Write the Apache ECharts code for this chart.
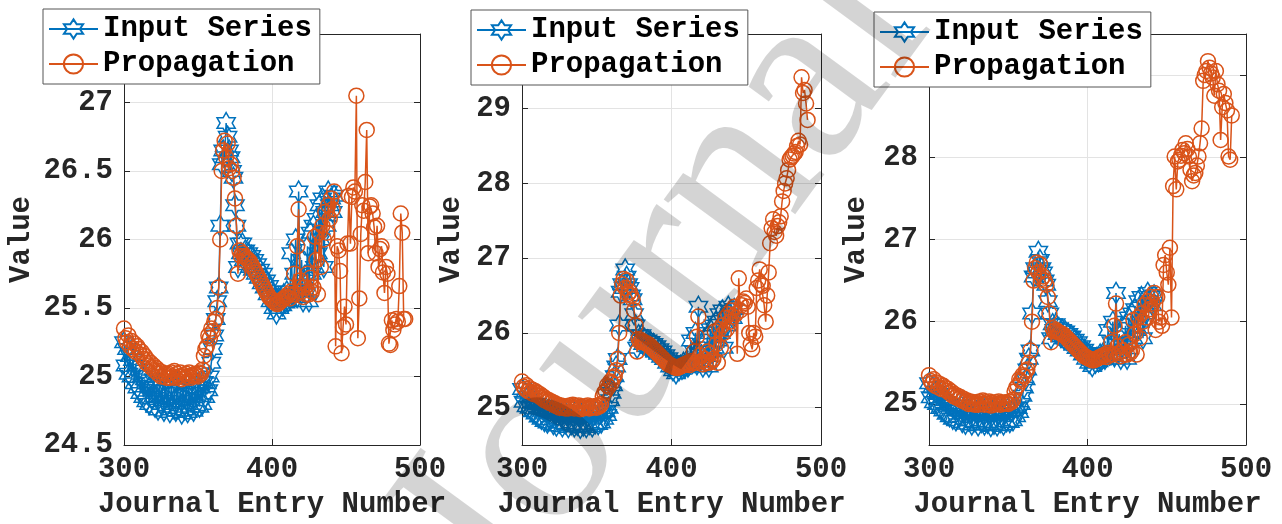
<!DOCTYPE html>
<html><head><meta charset="utf-8">
<script src="https://cdn.jsdelivr.net/npm/echarts@6/dist/echarts.min.js"></script>
<style>html,body{margin:0;padding:0;background:#fff}#c{width:1282px;height:524px}</style>
</head><body><div id="c"></div>
<script>
// ---- data ----
const firstEntry = 300;      // journal entry number of first value
const tailFirstEntry = 443;  // journal entry number of first tail value
const xTicks = [300, 400, 500];
const yTicks1 = [24.5, 25, 25.5, 26, 26.5, 27, 27.5];
const yTicks2 = [25, 26, 27, 28, 29, 30];
const yTicks3 = [25, 26, 27, 28, 29];
const seriesNames = ['Input Series', 'Propagation'];

// Input series, entries 300..442
const inputSeries = [
  25.25, 25.08, 25.2, 25.02, 25.15, 25.0, 25.12, 24.95, 25.08, 24.92,
  25.05, 24.88, 25.0, 24.85, 24.98, 24.82, 24.95, 24.8, 24.93, 24.84,
  24.98, 24.78, 24.92, 24.76, 24.95, 24.8, 24.9, 24.75, 24.97, 24.79,
  24.9, 24.74, 24.94, 24.78, 24.88, 24.75, 24.96, 24.77, 24.9, 24.73,
  24.92, 24.76, 24.95, 24.74, 24.88, 24.78, 24.93, 24.75, 24.9, 24.79,
  24.95, 24.78, 24.92, 24.8, 24.96, 24.85, 24.95, 24.9, 25.0, 25.1,
  25.2, 25.3, 25.42, 25.55, 25.65, 26.1, 26.55, 26.65, 26.6, 26.85,
  26.75, 26.65, 26.6, 26.5, 26.45, 26.25, 26.1, 25.8, 25.97, 25.9,
  25.97, 25.85, 25.92, 25.82, 25.9, 25.8, 25.88, 25.78, 25.85, 25.75,
  25.82, 25.72, 25.78, 25.68, 25.75, 25.65, 25.7, 25.6, 25.66, 25.55,
  25.62, 25.5, 25.58, 25.46, 25.55, 25.5, 25.56, 25.52, 25.6, 25.54,
  25.62, 25.55, 25.58, 25.9, 25.6, 25.75, 26.0, 25.58, 26.35, 25.62,
  25.85, 25.55, 25.7, 25.6, 25.95, 25.55, 26.05, 25.75, 26.1, 25.8,
  26.15, 25.9, 26.25, 26.0, 26.3, 25.8, 26.2, 26.1, 26.35, 26.25,
  26.3, 26.2, 26.32
];

// Propagation, shared part of all three panels, entries 300..442
const propagationShared = [
  25.35, 25.28, 25.25, 25.3, 25.22, 25.26, 25.2, 25.24, 25.18, 25.22,
  25.2, 25.16, 25.18, 25.13, 25.15, 25.1, 25.12, 25.08, 25.1, 25.06,
  25.08, 25.04, 25.06, 25.02, 25.04, 25.0, 25.03, 25.0, 25.02, 24.99,
  25.02, 24.99, 25.03, 25.0, 25.04, 24.99, 25.02, 25.0, 25.03, 24.98,
  25.01, 24.99, 25.02, 25.0, 25.03, 24.99, 25.01, 25.0, 25.02, 25.01,
  25.0, 25.03, 25.02, 25.05, 25.15, 25.2, 25.22, 25.3, 25.28, 25.35,
  25.33, 25.4, 25.42, 25.5, 25.65, 26.0, 26.5, 26.65, 26.72, 26.6,
  26.7, 26.52, 26.55, 26.5, 26.45, 26.3, 26.1, 25.75, 25.92, 25.88,
  25.9, 25.88, 25.87, 25.86, 25.85, 25.84, 25.82, 25.8, 25.78, 25.76,
  25.74, 25.72, 25.7, 25.68, 25.66, 25.64, 25.62, 25.6, 25.58, 25.57,
  25.56, 25.55, 25.54, 25.53, 25.53, 25.54, 25.55, 25.56, 25.57, 25.58,
  25.58, 25.6, 25.57, 25.62, 25.6, 25.75, 25.6, 25.95, 26.22, 25.7,
  25.62, 25.58, 25.65, 25.6, 25.75, 25.6, 25.72, 25.62, 25.65, 26.02,
  25.85, 25.6, 26.05, 25.8, 26.1, 26.0, 26.2, 26.05, 26.25, 26.15,
  26.3, 26.22, 26.35
];

// Propagation tails from entry 443 on
const propagationTail1 = [
  25.22, 25.95, 25.92, 25.77, 25.17, 25.36, 25.51, 25.38, 25.97, 26.32,
  25.97, 26.31, 26.38, 26.35, 27.05, 25.28, 25.57, 26.04, 26.25, 26.21,
  26.42, 26.8, 25.9, 26.24, 26.25, 26.19, 26.09, 25.9, 26.1, 25.8,
  25.93, 25.95, 25.76, 25.61, 25.8, 25.75, 25.24, 25.23, 25.41, 25.34,
  25.38, 25.42, 25.4, 25.66, 26.19, 26.05, 25.42, 25.42
];
const propagationTail2 = [
  26.25, 25.72, 26.73, 26.3, 26.37, 26.42, 26.4, 26.46, 26.35, 26.0,
  25.85, 25.78, 26.0, 25.95, 26.6, 26.7, 26.85, 26.65, 26.63, 26.37,
  26.15, 26.5, 26.81, 27.2, 27.4, 27.52, 27.35, 27.3, 27.43, 27.48,
  27.56, 27.76, 27.9, 28.0, 28.07, 28.18, 28.32, 28.35, 28.37, 28.4,
  28.42, 28.5, 28.57, 28.52, 29.42, 29.21, 29.25, 29.07, 28.85
];
const propagationTail3 = [
  25.9, 26.3, 26.0, 26.05, 25.95, 26.69, 26.81, 26.6, 26.45, 26.9,
  26.05, 27.65, 28.01, 27.61, 27.95, 27.97, 28.02, 28.09, 28.05, 28.17,
  28.1, 28.01, 27.85, 27.71, 27.78, 27.81, 27.9, 28.01, 28.17, 28.35,
  28.93, 29.0, 29.05, 29.17, 29.09, 29.02, 28.97, 28.75, 29.05, 28.89,
  28.81, 28.21, 28.61, 28.77, 28.66, 28.57, 28.01, 27.97, 28.51
];

// ---- chart ----
const BLUE = '#0072BD', ORANGE = '#D95319', INK = '#262626', GRIDC = '#e3e3e3';
const FONT = '"Liberation Mono", "Courier New", monospace';
const hexagram = 'path://M0,-100L28.87,-50L86.6,-50L57.74,0L86.6,50L28.87,50L0,100L-28.87,50L-86.6,50L-57.74,0L-86.6,-50L-28.87,-50Z';

const inputData = inputSeries.map((v, i) => [firstEntry + i, v]);
function propData(tail) {
  return propagationShared.map((v, i) => [firstEntry + i, v])
    .concat(tail.map((v, i) => [tailFirstEntry + i, v]));
}

const panels = [
  {left: 124, top: 34, width: 296, height: 411, yMin: 24.5, yMax: 27.5, yTicks: yTicks1, tail: propagationTail1, lgLeft: 43, lgTop: 9, yNameGap: 88},
  {left: 522, top: 34, width: 299, height: 414, yMin: 24.5, yMax: 30, yTicks: yTicks2, tail: propagationTail2, lgLeft: 471, lgTop: 10, yNameGap: 56},
  {left: 929, top: 34, width: 317, height: 414, yMin: 24.5, yMax: 29.5, yTicks: yTicks3, tail: propagationTail3, lgLeft: 874, lgTop: 12, yNameGap: 58}
];

const labelFont = {fontFamily: FONT, fontSize: 29, fontWeight: 'bold', color: INK};
const grid = [], xAxis = [], yAxis = [], series = [], legend = [];
panels.forEach((p, i) => {
  grid.push({left: p.left, top: p.top, width: p.width, height: p.height, containLabel: false});
  const tickStyle = {show: true, inside: true, length: 6, lineStyle: {color: INK, width: 1}};
  const lineStyle = {show: true, onZero: false, lineStyle: {color: INK, width: 1}};
  xAxis.push({
    gridIndex: i, type: 'value', min: 300, max: 500, interval: 100, position: 'bottom',
    axisLine: lineStyle, axisTick: Object.assign({customValues: xTicks}, tickStyle),
    axisLabel: Object.assign({margin: 10, customValues: xTicks}, labelFont),
    splitLine: {show: true, lineStyle: {color: GRIDC, width: 1}},
    name: 'Journal Entry Number', nameLocation: 'middle', nameGap: 45,
    nameTextStyle: labelFont
  });
  xAxis.push({
    gridIndex: i, type: 'value', min: 300, max: 500, interval: 100, position: 'top',
    axisLine: lineStyle, axisTick: Object.assign({customValues: xTicks}, tickStyle),
    axisLabel: {show: false}, splitLine: {show: false}
  });
  const labelVals = p.yTicks.filter(v => v < p.yMax);
  yAxis.push({
    gridIndex: i, type: 'value', min: p.yMin, max: p.yMax, position: 'left',
    axisLine: lineStyle, axisTick: Object.assign({customValues: p.yTicks}, tickStyle),
    axisLabel: Object.assign({margin: 11, customValues: labelVals}, labelFont),
    splitLine: {show: true, lineStyle: {color: GRIDC, width: 1}},
    name: 'Value', nameLocation: 'middle', nameGap: p.yNameGap, nameRotate: 90,
    nameTextStyle: labelFont
  });
  yAxis.push({
    gridIndex: i, type: 'value', min: p.yMin, max: p.yMax, position: 'right',
    axisLine: lineStyle, axisTick: Object.assign({customValues: p.yTicks}, tickStyle),
    axisLabel: {show: false}, splitLine: {show: false}
  });
  series.push({
    name: seriesNames[0], type: 'line', xAxisIndex: 2 * i, yAxisIndex: 2 * i,
    data: inputData, symbol: hexagram, symbolSize: 21, symbolKeepAspect: true,
    showSymbol: true, showAllSymbol: true,
    lineStyle: {color: BLUE, width: 1.5},
    itemStyle: {color: 'rgba(0,0,0,0)', borderColor: BLUE, borderWidth: 1.5},
    emphasis: {disabled: true}, z: 2
  });
  series.push({
    name: seriesNames[1], type: 'line', xAxisIndex: 2 * i, yAxisIndex: 2 * i,
    data: propData(p.tail), symbol: 'circle', symbolSize: 15,
    showSymbol: true, showAllSymbol: true,
    lineStyle: {color: ORANGE, width: 1.5},
    itemStyle: {color: 'rgba(0,0,0,0)', borderColor: ORANGE, borderWidth: 1.5},
    emphasis: {disabled: true}, z: 3
  });
  legend.push({
    left: p.lgLeft, top: p.lgTop, orient: 'vertical', data: seriesNames,
    backgroundColor: '#fff', borderColor: '#555', borderWidth: 1, borderRadius: 0,
    padding: [5, 8, 5, 5], itemGap: 5, itemWidth: 49, itemHeight: 24,
    selectedMode: false,
    textStyle: {fontFamily: FONT, fontSize: 29, fontWeight: 'bold', color: '#000', lineHeight: 30}
  });
});

const chart = echarts.init(document.getElementById('c'), null, {renderer: 'canvas'});
chart.setOption({
  animation: false,
  backgroundColor: '#fff',
  grid, xAxis, yAxis, series, legend,
  graphic: [{
    type: 'text', x: 445, y: 580, originX: 0, originY: 0,
    rotation: 53.7 * Math.PI / 180, z: 100, silent: true,
    style: {text: 'Journal Pre-proof', fontFamily: '"Liberation Serif", "Times New Roman", serif',
            fontSize: 250, fill: 'rgba(0,0,0,0.17)', align: 'left', verticalAlign: 'middle'}
  }]
});
</script>
</body></html>
